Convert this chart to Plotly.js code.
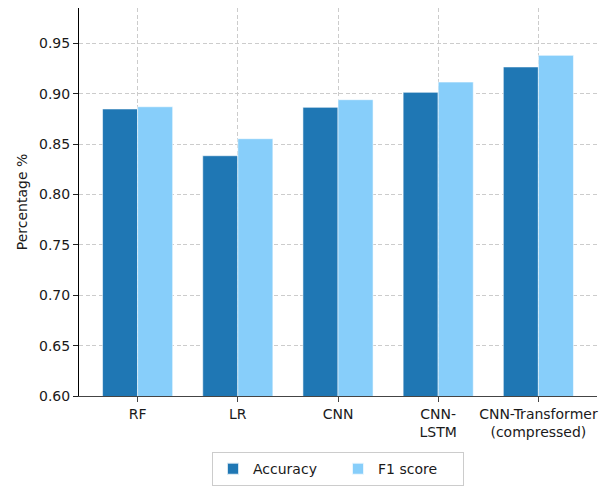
<!DOCTYPE html>
<html>
<head>
<meta charset="utf-8">
<script src="https://cdn.plot.ly/plotly-3.0.1.min.js"></script>
<style>html,body{margin:0;padding:0;background:#fff;}#chart{width:613px;height:489px;}</style>
</head>
<body>
<div id="chart"></div>
<script>
const categories = ["RF", "LR", "CNN", "CNN-<br>LSTM", "CNN-Transformer<br>(compressed)"];
const accuracy = [0.8848, 0.8384, 0.8864, 0.9013, 0.9265];
const f1score = [0.8870, 0.8553, 0.8940, 0.9115, 0.9380];
const seriesNames = ["Accuracy", "F1 score"];
const yTicks = [0.60, 0.65, 0.70, 0.75, 0.80, 0.85, 0.90, 0.95];

const font = {family: "DejaVu Sans, sans-serif", size: 14, color: "#1a1a1a"};

const traces = [
  {type: "bar", name: seriesNames[0], x: categories, y: accuracy,
   marker: {color: "#1f77b4", line: {color: "rgba(255,255,255,0.8)", width: 0.7}}},
  {type: "bar", name: seriesNames[1], x: categories, y: f1score,
   marker: {color: "#87cefa", line: {color: "rgba(255,255,255,0.8)", width: 0.7}}}
];

const layout = {
  width: 613, height: 489,
  margin: {l: 79, r: 16, t: 8, b: 93, pad: 0, autoexpand: false},
  paper_bgcolor: "#fff", plot_bgcolor: "#fff",
  font: font,
  barmode: "group", bargap: 0.3, bargroupgap: 0,
  xaxis: {
    type: "category",
    range: [-0.585, 4.585],
    automargin: false,
    showgrid: true, gridcolor: "#cccccc", griddash: "4px,2.5px", gridwidth: 1,
    showline: true, linecolor: "#444", linewidth: 1,
    ticks: "outside", ticklen: 5, tickcolor: "#444",
    tickfont: font, zeroline: false
  },
  yaxis: {
    range: [0.6, 0.985],
    automargin: false,
    tickvals: yTicks, ticktext: yTicks.map(v => v.toFixed(2)),
    showgrid: true, gridcolor: "#cccccc", griddash: "4px,2.5px", gridwidth: 1,
    showline: true, linecolor: "#000", linewidth: 1,
    ticks: "outside", ticklen: 5, tickcolor: "#222",
    tickfont: font, zeroline: false,
    title: {text: "Percentage %", font: font, standoff: 8}
  },
  legend: {
    orientation: "h", x: 0.5, xanchor: "center", y: -0.145, yanchor: "top",
    bordercolor: "#cccccc", borderwidth: 1, font: font,
    entrywidth: 80, entrywidthmode: "pixels",
    itemsizing: "constant", itemwidth: 30
  },
  showlegend: true
};

Plotly.newPlot("chart", traces, layout, {displayModeBar: false, staticPlot: true});
</script>
</body>
</html>
